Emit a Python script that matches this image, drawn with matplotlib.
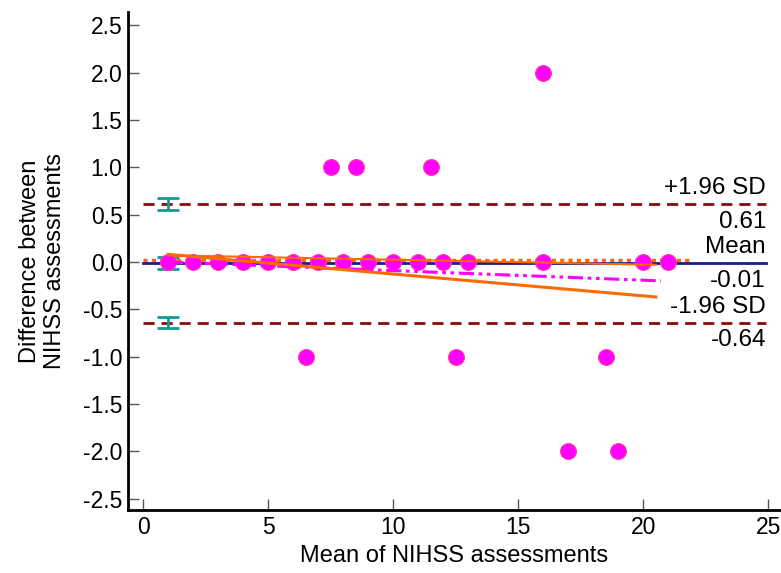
import matplotlib.pyplot as plt

plt.rcParams['font.family'] = ['Liberation Sans', 'DejaVu Sans']

# Bland-Altman data: mean of the two assessments vs difference
mean_vals = [1, 2, 3, 4, 5, 6, 7, 8, 9, 10, 11, 12, 13, 16, 20, 21,
             7.5, 8.5, 11.5, 16, 6.5, 12.5, 18.5, 17, 19]
diff_vals = [0, 0, 0, 0, 0, 0, 0, 0, 0, 0, 0, 0, 0, 0, 0, 0,
             1, 1, 1, 2, -1, -1, -1, -2, -2]

mean_diff = -0.01
upper_loa = 0.61
lower_loa = -0.64

# confidence intervals of mean and limits (drawn at x=1)
ci_x = 1
ci_centers = [upper_loa, mean_diff, lower_loa]
ci_low = [0.55, -0.07, -0.70]
ci_high = [0.68, 0.05, -0.58]

# regression lines (endpoints)
reg_x = [1, 20.5]
reg_y = [0.08, -0.37]
reg2_y = [0.07, -0.03]
dashdot_x = [1, 20.7]
dashdot_y = [0.0, -0.20]
dotted_x = [0, 21.9]
dotted_y = [0.02, 0.02]

fig = plt.figure(figsize=(7.81, 5.73), dpi=100)
ax = fig.add_axes([0.164, 0.110, 0.836, 0.869])

ax.plot([0, 24.9], [upper_loa, upper_loa], ls=(0, (4, 2.5)), color='#8b0a0a', lw=2)
ax.plot([0, 24.9], [lower_loa, lower_loa], ls=(0, (4, 2.5)), color='#8b0a0a', lw=2)
ax.plot(dotted_x, dotted_y, ls=(0, (1.2, 1.2)), color='#ff6a00', lw=2.5)
ax.plot([0, 24.9], [mean_diff, mean_diff], color='#1c1c8a', lw=2)

ax.errorbar([ci_x] * 3, ci_centers,
            yerr=[[c - l for c, l in zip(ci_centers, ci_low)],
                  [h - c for c, h in zip(ci_centers, ci_high)]],
            fmt='none', ecolor='#139a96', elinewidth=2, capsize=8, capthick=2)

ax.scatter(mean_vals, diff_vals, s=130, color='#ff00ff', edgecolor='#ff3c9c',
           linewidth=0.8, zorder=3)

ax.plot(dashdot_x, dashdot_y, ls=(0, (5, 1.5, 1.2, 1.5, 1.2, 1.5)), color='#ff00ff', lw=2.2, zorder=4)
ax.plot(reg_x, reg_y, color='#ff6a00', lw=2.2, zorder=4)
ax.plot(reg_x, reg2_y, color='#ff6a00', lw=1.5, zorder=4)

# labels on the right
tx = 24.9
fs = 17.5
ax.text(tx, upper_loa + 0.05, '+1.96 SD', ha='right', va='bottom', fontsize=fs)
ax.text(tx, upper_loa - 0.07, f'{upper_loa:.2f}', ha='right', va='top', fontsize=fs)
ax.text(tx, mean_diff + 0.05, 'Mean', ha='right', va='bottom', fontsize=fs)
ax.text(tx, mean_diff - 0.07, f'{mean_diff:.2f}', ha='right', va='top', fontsize=fs)
ax.text(tx, lower_loa + 0.05, '-1.96 SD', ha='right', va='bottom', fontsize=fs)
ax.text(tx, lower_loa - 0.07, f'{lower_loa:.2f}', ha='right', va='top', fontsize=fs)

ax.set_xlim(-0.6, 25.5)
ax.set_ylim(-2.62, 2.64)
ax.set_xticks([0, 5, 10, 15, 20, 25])
ax.set_yticks([-2.5, -2.0, -1.5, -1.0, -0.5, 0.0, 0.5, 1.0, 1.5, 2.0, 2.5])
ax.set_yticklabels([f'{v:.1f}' for v in ax.get_yticks()])

ax.spines['top'].set_visible(False)
ax.spines['right'].set_visible(False)
ax.spines['left'].set_linewidth(2)
ax.spines['bottom'].set_linewidth(2)
ax.tick_params(direction='in', length=8, width=1, color='#555555', labelsize=16.5, pad=4)

ax.set_xlabel('Mean of NIHSS assessments', fontsize=17, labelpad=5)
ax.set_ylabel('Difference between\nNIHSS assessments', fontsize=17, labelpad=12)

fig.savefig('out.png', dpi=100)
